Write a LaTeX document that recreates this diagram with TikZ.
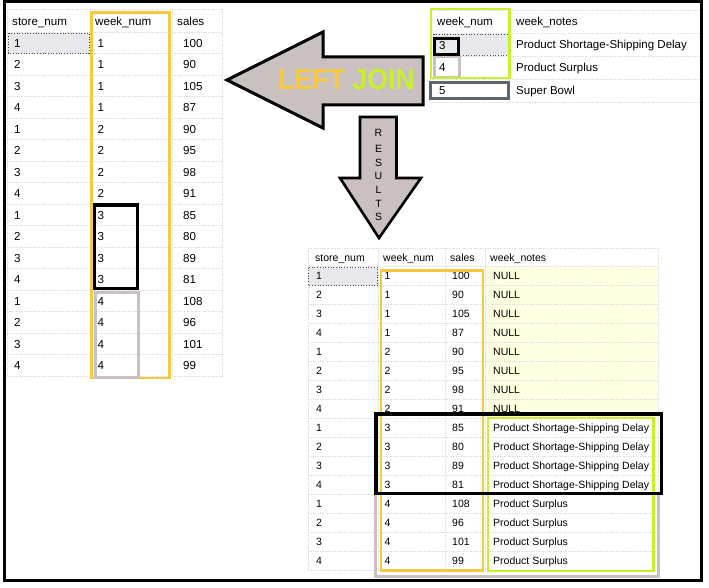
\documentclass[tikz,border=0pt]{standalone}
\usepackage{fontspec}
\setmainfont{Liberation Sans}
\definecolor{gold}{RGB}{246,202,64}
\definecolor{limeg}{RGB}{200,240,45}
\definecolor{taupe}{RGB}{202,192,192}
\definecolor{slate}{RGB}{90,102,112}
\definecolor{gridc}{RGB}{222,222,222}
\definecolor{nullbg}{RGB}{255,255,226}
\definecolor{selbg}{RGB}{232,232,236}
\begin{document}
\begin{tikzpicture}[x=1pt,y=-1pt,
  gridl/.style={gridc, densely dotted, line width=0.7pt},
  selcell/.style={fill=selbg, draw=black!70, dotted, line width=0.7pt},
  lt/.style={anchor=west, inner sep=0pt, text height=8.3pt, text depth=0pt, font=\fontsize{11.6}{13}\selectfont},
  rt/.style={anchor=west, inner sep=0pt, text height=8.2pt, text depth=0pt, font=\fontsize{11.5}{13}\selectfont},
  rs/.style={anchor=west, inner sep=0pt, text height=7.5pt, text depth=0pt, font=\fontsize{10.5}{12}\selectfont},
  yrect/.style={draw=gold, line width=2.6pt},
  lrect/.style={draw=limeg, line width=2.6pt},
  krect/.style={draw=black, line width=3.2pt},
  trect/.style={draw=taupe, line width=3pt},
  srect/.style={draw=slate, line width=3pt},
  arrowshape/.style={fill=taupe, draw=black, line width=3pt, line join=miter},
  letter/.style={inner sep=0pt, font=\fontsize{10.5}{12}\selectfont}
]
\useasboundingbox (0,0) rectangle (709,588);
\fill[white] (0,0) rectangle (709,588);

% ---------- left table ----------
\draw[gridl] (7,9) -- (222,9);
\foreach \k in {0,...,16} { \draw[gridl] (7,32.25+21.5*\k) -- (222,32.25+21.5*\k); }
\foreach \xx in {7,90,172,222} { \draw[gridl] (\xx,9) -- (\xx,376.25); }
\draw[selcell] (8,33.5) rectangle (89,53);
\node[lt] (lh1) at (12,21) {store\_num};
\node[lt] (lh2) at (95,21) {week\_num};
\node[lt] (lh3) at (177,21) {sales};
\foreach \s/\w/\v [count=\i] in {1/1/100,2/1/90,3/1/105,4/1/87,1/2/90,2/2/95,3/2/98,4/2/91,1/3/85,2/3/80,3/3/89,4/3/81,1/4/108,2/4/96,3/4/101,4/4/99} {
  \node[lt] (ls\i) at (14,43+21.5*\i-21.5) {\s};
  \node[lt] (lw\i) at (97.5,43+21.5*\i-21.5) {\w};
  \node[lt] (lv\i) at (183,43+21.5*\i-21.5) {\v};
}
\draw[yrect] (91.5,12.5) rectangle (169.5,378);
\draw[trect] (95.5,292) rectangle (138.5,377.5);
\draw[krect] (94.5,205) rectangle (137.5,288.5);

% ---------- top right table ----------
\draw[gridl] (430,10) -- (700,10);
\foreach \yy in {33,56,79,102} { \draw[gridl] (430,\yy) -- (700,\yy); }
\foreach \xx in {430,509} { \draw[gridl] (\xx,10) -- (\xx,102); }
\draw[selcell] (433,34) rectangle (508,55.5);
\node[rt] (th1) at (437,21) {week\_num};
\node[rt] (th2) at (516,21) {week\_notes};
\node[rt] (tw1) at (439,45) {3};
\node[rt] (tn1) at (516,44.5) {Product Shortage-Shipping Delay};
\node[rt] (tw2) at (439,67.5) {4};
\node[rt] (tn2) at (516,67.5) {Product Surplus};
\node[rt] (tw3) at (439,90.5) {5};
\node[rt] (tn3) at (516,90.5) {Super Bowl};
\draw[trect] (434.5,57) rectangle (459,78);
\draw[lrect] (431,9) rectangle (509.5,78);
\draw[krect] (434.5,38.5) rectangle (458.5,54.5);
\draw[srect] (430.5,83) rectangle (508.5,98.5);

% ---------- left arrow ----------
\draw[arrowshape] (227,80) -- (323,32) -- (323,57) -- (423,57) -- (423,105) -- (323,105) -- (323,128) -- cycle;
\node[inner sep=0pt, xscale=0.92, font=\fontsize{29}{32}\selectfont\bfseries] (lj) at (346.5,79.5) {\textcolor{gold}{LEFT} \textcolor{limeg}{JOIN}};

% ---------- down arrow ----------
\draw[arrowshape, line width=2.6pt] (360,117) -- (396.5,117) -- (396.5,178) -- (421,178) -- (379,238) -- (340,178) -- (360,178) -- cycle;
\foreach \L/\yy [count=\j] in {R/133,E/148.5,S/162.5,U/176,L/190,T/203.5,S/217} {
  \node[letter] (res\j) at (378.5,\yy) {\L};
}

% ---------- result table ----------
\fill[nullbg] (485,267) rectangle (658,418.5);
\draw[gridl] (308,248) -- (658,248);
\foreach \k in {0,...,16} { \draw[gridl] (308,266.5+19*\k) -- (658,266.5+19*\k); }
\foreach \xx in {308,378,445,485,658} { \draw[gridl] (\xx,248) -- (\xx,570.5); }
\draw[selcell] (308.5,267.5) rectangle (377.5,285.5);
\node[rs] (rh1) at (315,257.5) {store\_num};
\node[rs] (rh2) at (383,257.5) {week\_num};
\node[rs] (rh3) at (450,257.5) {sales};
\node[rs] (rh4) at (490,257.5) {week\_notes};
\foreach \s/\w/\v/\n [count=\i] in {1/1/100/NULL,2/1/90/NULL,3/1/105/NULL,4/1/87/NULL,1/2/90/NULL,2/2/95/NULL,3/2/98/NULL,4/2/91/NULL,1/3/85/Product Shortage-Shipping Delay,2/3/80/Product Shortage-Shipping Delay,3/3/89/Product Shortage-Shipping Delay,4/3/81/Product Shortage-Shipping Delay,1/4/108/Product Surplus,2/4/96/Product Surplus,3/4/101/Product Surplus,4/4/99/Product Surplus} {
  \node[rs] (rs\i) at (316,276+19*\i-19) {\s};
  \node[rs] (rw\i) at (384.5,276+19*\i-19) {\w};
  \node[rs] (rv\i) at (452,276+19*\i-19) {\v};
  \node[rs] (rn\i) at (493,276+19*\i-19) {\n};
}
\draw[trect] (375,493) rectangle (658.5,576);
\draw[yrect] (381,270.5) rectangle (483,570.5);
\draw[lrect] (488,418) rectangle (653.5,571);
\draw[krect, line width=3.5pt] (376,414) rectangle (661.5,493.5);

% ---------- outer frame ----------
\draw[line width=3pt] (4.5,1.5) rectangle (701.5,580);
\end{tikzpicture}
\end{document}
